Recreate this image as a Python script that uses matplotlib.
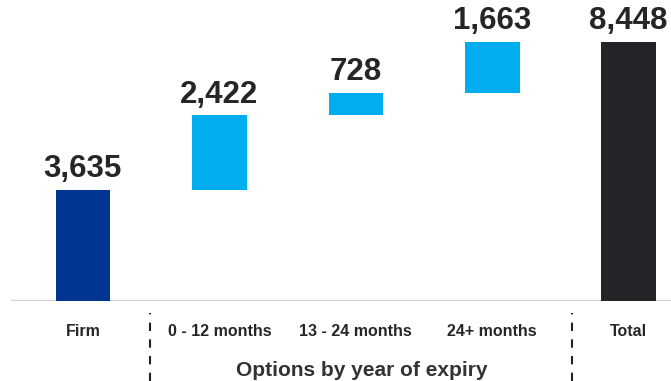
import matplotlib.pyplot as plt

# Waterfall: firm orders, option tranches by expiry, total
categories = ["Firm", "0 - 12 months", "13 - 24 months", "24+ months", "Total"]
values = [3635, 2422, 728, 1663, 8448]
kinds = ["start", "step", "step", "step", "total"]
colors = {"start": "#003591", "step": "#00ADEF", "total": "#232427"}

plt.rcParams["font.family"] = ["Liberation Sans", "DejaVu Sans"]

fig = plt.figure(figsize=(6.71, 3.81), dpi=100)
ax = fig.add_axes([0.0164, 0.21, 0.9836, 0.79])

running = 0
for i, (cat, val, kind) in enumerate(zip(categories, values, kinds)):
    if kind == "step":
        bottom = running
        running += val
    else:
        bottom = 0
        running = val if kind == "start" else running
    ax.bar(i, val, bottom=bottom, width=0.4, color=colors[kind])
    ax.text(i, bottom + val + 180, f"{val:,}", ha="center", va="bottom",
            fontsize=22.5, fontweight="bold", color="#262626")

ax.set_xlim(-0.527, 4.31)
ax.set_ylim(0, 9817)
ax.axis("off")

# baseline
ax.axhline(0, color="#d0d0d6", lw=2.4, zorder=0)

# category labels below the axis
for i, cat in enumerate(categories):
    ax.annotate(cat, xy=(i, 0), xycoords="data", xytext=(0, -22),
                textcoords="offset points", ha="center", va="center",
                fontsize=11.5, fontweight="bold", color="#262626")

# dashed separators around the options group
for xf in (150 / 671, 572 / 671):
    fig.add_artist(plt.Line2D([xf, xf], [0, 68 / 381], color="#222222",
                              lw=1.5, linestyle=(0, (4, 4))))

fig.text(362 / 671, 11 / 381, "Options by year of expiry", ha="center",
         va="center", fontsize=15, fontweight="bold", color="#333333")

fig.savefig("out.png", dpi=100)
